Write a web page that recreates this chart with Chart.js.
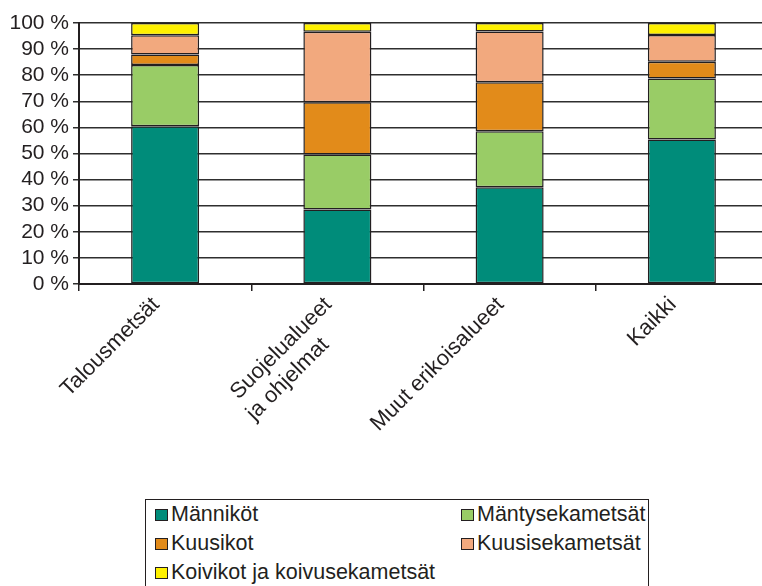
<!DOCTYPE html>
<html>
<head>
<meta charset="utf-8">
<title>Metsätyypit</title>
<script src="https://cdn.jsdelivr.net/npm/chart.js"></script>
<style>
  body {
    margin: 0;
    width: 762px;
    height: 586px;
    overflow: hidden;
    background: #fff;
    position: relative;
    font-family: "Liberation Sans", Arial, sans-serif;
    color: #231f20;
  }
  #chart {
    position: absolute;
    left: 0;
    top: 0;
  }
  #legend {
    position: absolute;
    left: 145px;
    top: 499px;
    width: 504px;
    height: 110px;
    border: 1.5px solid #231f20;
    box-sizing: border-box;
    padding-left: 9px;
    display: grid;
    grid-template-columns: 306px auto;
    grid-auto-rows: 29px;
    font-size: 21.5px;
    line-height: 29px;
  }
  .item { white-space: nowrap; }
  .swatch {
    display: inline-block;
    width: 11px;
    height: 10px;
    border: 1px solid #231f20;
    margin-right: 3px;
  }
</style>
</head>
<body>
<canvas id="chart" width="768" height="470"></canvas>
<div id="legend"></div>
<script>
// Categories (second label split in two lines, trailing spaces keep the lines left-aligned)
const categories = ['Talousmetsät', ['Suojelualueet', 'ja ohjelmat     '], 'Muut erikoisalueet', 'Kaikki'];

// Shares in percent
const manni = [60.4, 28.5, 37.1, 55.4];
const mantysek = [23.5, 21.1, 21.4, 23.3];
const kuusikot = [4.0, 20.0, 18.8, 6.5];
const kuusisek = [7.4, 27.0, 19.4, 10.2];
const koivikot = [4.7, 3.4, 3.3, 4.6];

const seriesNames = ['Männiköt', 'Mäntysekametsät', 'Kuusikot', 'Kuusisekametsät', 'Koivikot ja koivusekametsät'];
const seriesColors = ['#008c7a', '#99cc66', '#e28b1a', '#f2a97e', '#fff100'];
const yTicks = [0, 10, 20, 30, 40, 50, 60, 70, 80, 90, 100];

const ink = '#231f20';
const font = { family: '"Liberation Sans", Arial, sans-serif', size: 21 };

const seriesValues = [manni, mantysek, kuusikot, kuusisek, koivikot];
const datasets = seriesNames.map((name, i) => ({
  label: name,
  data: seriesValues[i],
  backgroundColor: seriesColors[i],
  borderColor: ink,
  borderWidth: 1.5,
  borderSkipped: false,
  categoryPercentage: 1,
  barPercentage: 0.395
}));

const chart = new Chart(document.getElementById('chart'), {
  type: 'bar',
  data: { labels: categories, datasets: datasets },
  options: {
    responsive: false,
    animation: false,
    layout: { padding: { top: 23, right: 0, bottom: 0, left: 0 } },
    plugins: {
      legend: { display: false },
      tooltip: { enabled: false }
    },
    scales: {
      x: {
        stacked: true,
        grid: {
          display: true,
          drawOnChartArea: false,
          offset: true,
          color: ink,
          lineWidth: 1.5,
          tickLength: 7
        },
        border: { color: ink, width: 2 },
        ticks: {
          color: ink,
          font: { ...font, size: 22, lineHeight: 1.2 },
          minRotation: 45,
          maxRotation: 45,
          autoSkip: false,
          padding: 1,
          labelOffset: -9
        },
        afterFit: (scale) => { scale.height = 186; }
      },
      y: {
        stacked: true,
        min: 0,
        max: 100,
        afterBuildTicks: (scale) => { scale.ticks = yTicks.map(v => ({ value: v })); },
        grid: {
          color: '#2e2e2e',
          lineWidth: 1.5,
          tickLength: 6
        },
        border: { color: ink, width: 2 },
        ticks: {
          color: ink,
          font: font,
          padding: 4,
          autoSkip: false,
          callback: (v) => v + ' %'
        },
        afterFit: (scale) => { scale.width = 79; }
      }
    }
  }
});

// HTML legend in two columns, built from the chart's datasets
const legendEl = document.getElementById('legend');
chart.data.datasets.forEach(ds => {
  const item = document.createElement('div');
  item.className = 'item';
  const sw = document.createElement('span');
  sw.className = 'swatch';
  sw.style.background = ds.backgroundColor;
  item.appendChild(sw);
  item.appendChild(document.createTextNode(ds.label));
  legendEl.appendChild(item);
});
</script>
</body>
</html>
